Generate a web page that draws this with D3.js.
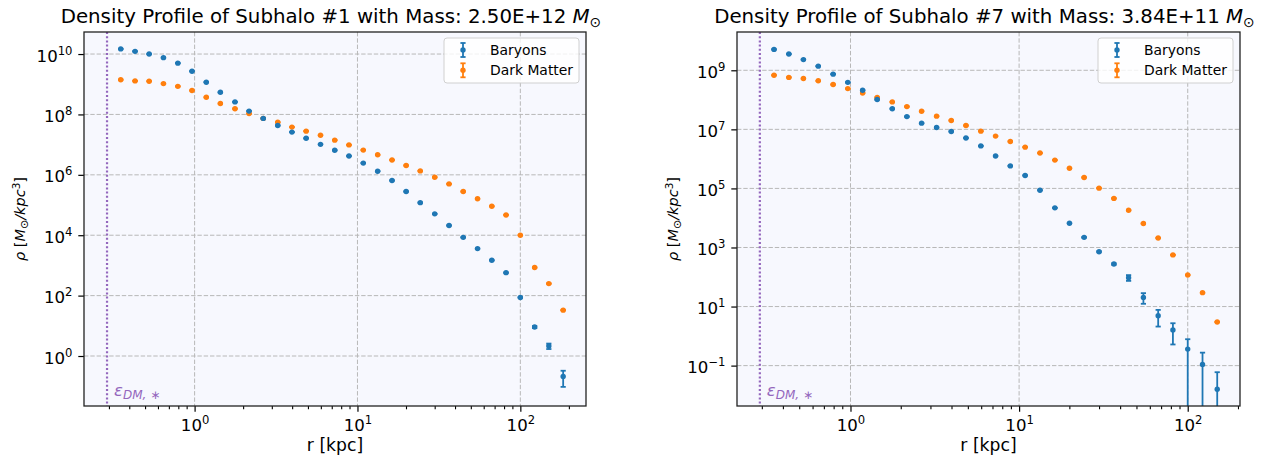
<!DOCTYPE html>
<html>
<head>
<meta charset="utf-8">
<script src="https://cdn.jsdelivr.net/npm/d3@7/dist/d3.min.js"></script>
<style>
body { margin: 0; background: #fff; }
text { font-family: 'DejaVu Sans', sans-serif; fill: #000; }
</style>
</head>
<body>
<svg id="chart" width="1271" height="465"></svg>
<script>
// radial bin centres [kpc]
const radii = [0.352, 0.431, 0.526, 0.644, 0.789, 0.964, 1.18, 1.44, 1.77, 2.16, 2.64, 3.24, 3.96, 4.84, 5.93, 7.25,
  8.87, 10.86, 13.3, 16.3, 19.9, 24.3, 29.8, 36.5, 44.6, 54.6, 66.8, 81.7, 100, 122.4, 149.6, 183.2]

// subhalo #1
const baryons1 = [1.48e10, 1.23e10, 1.0e10, 7.6e9, 5.0e9, 2.7e9, 1.17e9, 5.4e8, 2.6e8, 1.29e8, 7.4e7, 4.3e7, 2.6e7,
  1.62e7, 1.02e7, 6.5e6, 4.2e6, 2.45e6, 1.32e6, 6.5e5, 2.8e5, 1.2e5, 5.1e4, 2.1e4, 8.5e3, 3.6e3, 1.48e3, 575, 87,
  9.1, 2.14, 0.21]
const baryonsErr1 = [0, 0, 0, 0, 0, 0, 0, 0, 0, 0, 0, 0, 0, 0, 0, 0, 0, 0, 0, 0, 0, 0, 0, 0, 0, 0, 0, 5, 2, 0.7, 0.44, 0.115]
const dm1 = [1.41e9, 1.29e9, 1.26e9, 1.05e9, 8.5e8, 6.2e8, 3.7e8, 2.3e8, 1.55e8, 1.07e8, 7.4e7, 5.5e7, 3.8e7, 2.8e7,
  2.04e7, 1.41e7, 9.8e6, 6.6e6, 4.6e6, 3.1e6, 2.04e6, 1.35e6, 8.3e5, 5.0e5, 2.8e5, 1.62e5, 9.1e4, 4.7e4, 1.0e4,
  850, 250, 33]

// subhalo #7
const baryons7 = [5.1e9, 3.55e9, 2.3e9, 1.38e9, 7.4e8, 3.9e8, 2.1e8, 1.02e8, 5.0e7, 2.7e7, 1.62e7, 1.15e7, 8.5e6,
  5.1e6, 2.75e6, 1.26e6, 5.8e5, 2.75e5, 8.7e4, 2.2e4, 6.6e3, 2.2e3, 720, 275, 95, 20.4, 4.9, 1.62, 0.363, 0.11, 0.0158]
const baryonsErr7 = [0, 0, 0, 0, 0, 0, 0, 0, 0, 0, 0, 0, 0, 0, 0, 0, 0, 0, 0, 0, 0, 60, 30, 15, 21, 8, 2.8, 1.1, 0.42,
  0.165, 0.044]
const dm7 = [6.8e8, 5.75e8, 5.25e8, 4.4e8, 3.3e8, 2.4e8, 1.7e8, 1.2e8, 8.5e7, 5.9e7, 4.1e7, 2.8e7, 2.0e7, 1.35e7,
  8.7e6, 5.9e6, 3.9e6, 2.5e6, 1.58e6, 9.1e5, 4.8e5, 2.35e5, 1.02e5, 4.6e4, 1.82e4, 6.5e3, 2.1e3, 560, 117, 29.5, 3.0]

const softening = 0.29
const xTicks = [1, 10, 100]
const yTicks1 = [0, 2, 4, 6, 8, 10]
const yTicks7 = [-1, 1, 3, 5, 7, 9]
const seriesNames = ['Baryons', 'Dark Matter']
const colors = ['#1f77b4', '#ff7f0e']

const svg = d3.select('#chart')

function drawPanel(p) {
  const x = d3.scaleLog().domain(p.xDomain).range([p.left, p.right])
  const y = d3.scaleLog().domain(p.yDomain).range([p.bottom, p.top])
  const g = svg.append('g')

  g.append('clipPath').attr('id', 'clip' + p.id)
    .append('rect')
    .attr('x', p.left).attr('y', p.top)
    .attr('width', p.right - p.left).attr('height', p.bottom - p.top)

  g.append('rect')
    .attr('x', p.left).attr('y', p.top)
    .attr('width', p.right - p.left).attr('height', p.bottom - p.top)
    .attr('fill', '#f7f8fe')

  // grid
  const grid = g.append('g').attr('stroke', '#b8b8b8').attr('stroke-width', 1).attr('stroke-dasharray', '4.4,1.9')
  grid.selectAll('.gx').data(xTicks).enter().append('line')
    .attr('x1', d => x(d)).attr('x2', d => x(d))
    .attr('y1', p.top).attr('y2', p.bottom)
  grid.selectAll('.gy').data(p.yTicks).enter().append('line')
    .attr('x1', p.left).attr('x2', p.right)
    .attr('y1', d => y(Math.pow(10, d))).attr('y2', d => y(Math.pow(10, d)))

  // softening length
  g.append('line')
    .attr('x1', x(softening)).attr('x2', x(softening))
    .attr('y1', p.top).attr('y2', p.bottom)
    .attr('stroke', '#9467bd').attr('stroke-width', 2.2).attr('stroke-dasharray', '2,2.2')
  const eps = g.append('text')
    .attr('x', x(softening) + 7).attr('y', p.bottom - 10)
    .attr('fill', '#9467bd').style('fill', '#9467bd')
    .attr('font-size', 16.5).attr('font-style', 'italic')
  eps.append('tspan').text('ε')
  eps.append('tspan').attr('dy', 3).attr('font-size', 12).text('DM, ∗')

  // data
  const plot = g.append('g').attr('clip-path', 'url(#clip' + p.id + ')')
  const sets = [
    { values: p.baryons, err: p.baryonsErr, color: colors[0] },
    { values: p.dm, err: null, color: colors[1] }
  ]
  sets.slice().reverse().forEach(s => {
    const pts = s.values.map((v, i) => ({ r: radii[i], v: v, e: s.err ? s.err[i] : 0 }))
    const eb = plot.append('g').attr('stroke', s.color).attr('stroke-width', 1.8)
    eb.selectAll('line.bar').data(pts.filter(d => d.e > 0)).enter().append('line')
      .attr('x1', d => x(d.r)).attr('x2', d => x(d.r))
      .attr('y1', d => y(d.v + d.e))
      .attr('y2', d => d.v - d.e > 0 ? y(d.v - d.e) : p.bottom + 5)
    eb.selectAll('line.capt').data(pts).enter().append('line')
      .attr('x1', d => x(d.r) - 2.6).attr('x2', d => x(d.r) + 2.6)
      .attr('y1', d => y(d.v + d.e)).attr('y2', d => y(d.v + d.e))
    eb.selectAll('line.capb').data(pts.filter(d => d.v - d.e > 0)).enter().append('line')
      .attr('x1', d => x(d.r) - 2.6).attr('x2', d => x(d.r) + 2.6)
      .attr('y1', d => y(d.v - d.e)).attr('y2', d => y(d.v - d.e))
    plot.append('g').selectAll('circle').data(pts).enter().append('circle')
      .attr('cx', d => x(d.r)).attr('cy', d => y(d.v))
      .attr('r', 2.7).attr('fill', s.color)
  })

  // axes
  const xAxis = g.append('g')
    .attr('transform', 'translate(0,' + p.bottom + ')')
    .call(d3.axisBottom(x).tickValues(xTicks).tickFormat('').tickSize(5.7).tickSizeOuter(0))
  const minor = []
  ;[0.1, 1, 10, 100].forEach(dec => {
    for (let k = 2; k < 10; k++) {
      const v = dec * k
      if (v > p.xDomain[0] && v < p.xDomain[1]) minor.push(v)
    }
  })
  xAxis.selectAll('.minor').data(minor).enter().append('line')
    .attr('x1', d => x(d)).attr('x2', d => x(d))
    .attr('y1', 0).attr('y2', 3.3)
    .attr('stroke', '#000').attr('stroke-width', 1.1)
  xAxis.selectAll('.tick').each(function(d) {
    const t = d3.select(this).append('text')
      .attr('y', 25).attr('text-anchor', 'middle').attr('font-size', 16.6)
    t.append('tspan').text('10')
    t.append('tspan').attr('dy', -7).attr('font-size', 11.6).text(Math.round(Math.log10(d)))
  })

  const yAxis = g.append('g')
    .attr('transform', 'translate(' + p.left + ',0)')
    .call(d3.axisLeft(y).tickValues(p.yTicks.map(d => Math.pow(10, d))).tickFormat('').tickSize(5.7).tickSizeOuter(0))
  yAxis.selectAll('.tick').each(function(d) {
    const e = Math.round(Math.log10(d))
    const t = d3.select(this).append('text')
      .attr('x', -11.5).attr('y', 7).attr('text-anchor', 'end').attr('font-size', 16.6)
    t.append('tspan').text('10')
    t.append('tspan').attr('dy', -7).attr('font-size', 11.6).text(e < 0 ? '−' + (-e) : e)
  })
  g.selectAll('.tick line').attr('stroke-width', 1.2)
  g.selectAll('.domain').remove()

  // frame
  g.append('rect')
    .attr('x', p.left).attr('y', p.top)
    .attr('width', p.right - p.left).attr('height', p.bottom - p.top)
    .attr('fill', 'none').attr('stroke', '#222').attr('stroke-width', 1.3)

  // title
  const title = g.append('text')
    .attr('x', (p.left + p.right) / 2 - 4).attr('y', 23)
    .attr('text-anchor', 'middle').attr('font-size', 19.8)
  title.append('tspan').text('Density Profile of Subhalo ' + p.name + ' with Mass: ' + p.mass + ' ')
  title.append('tspan').attr('font-style', 'italic').text('M')
  title.append('tspan').attr('dy', 4).attr('font-size', 14).text('⊙')

  // axis labels
  g.append('text')
    .attr('x', (p.left + p.right) / 2).attr('y', 451)
    .attr('text-anchor', 'middle').attr('font-size', 17.2)
    .text('r [kpc]')
  const yl = g.append('text')
    .attr('transform', 'translate(' + (p.left - 59) + ',' + ((p.top + p.bottom) / 2) + ') rotate(-90)')
    .attr('text-anchor', 'middle').attr('font-size', 14.5)
  yl.append('tspan').attr('font-style', 'italic').text('ρ')
  yl.append('tspan').text(' [')
  yl.append('tspan').attr('font-style', 'italic').text('M')
  yl.append('tspan').attr('dy', 3).attr('font-size', 11).text('⊙')
  yl.append('tspan').attr('dy', -3).attr('font-style', 'italic').text('/kpc')
  yl.append('tspan').attr('dy', -5).attr('font-size', 10.5).text('3')
  yl.append('tspan').attr('dy', 5).text(']')

  // legend
  const lg = g.append('g').attr('transform', 'translate(' + (p.right - 142) + ',' + (p.top + 6) + ')')
  lg.append('rect')
    .attr('width', 135).attr('height', 45).attr('rx', 3)
    .attr('fill', '#ffffff').attr('fill-opacity', 0.8)
    .attr('stroke', '#d0d0d0').attr('stroke-width', 1)
  seriesNames.forEach((name, i) => {
    const cy = 12 + i * 20.3
    const item = lg.append('g').attr('stroke', colors[i]).attr('stroke-width', 1.8)
    item.append('line').attr('x1', 19).attr('x2', 19).attr('y1', cy - 7).attr('y2', cy + 7)
    item.append('line').attr('x1', 16.4).attr('x2', 21.6).attr('y1', cy - 7).attr('y2', cy - 7)
    item.append('line').attr('x1', 16.4).attr('x2', 21.6).attr('y1', cy + 7).attr('y2', cy + 7)
    lg.append('circle').attr('cx', 19).attr('cy', cy).attr('r', 2.7).attr('fill', colors[i])
    lg.append('text').attr('x', 46).attr('y', cy + 5).attr('font-size', 13.9).text(name)
  })
}

drawPanel({
  id: 1, name: '#1', mass: '2.50E+12',
  left: 84, right: 586, top: 32, bottom: 406,
  xDomain: [0.2094, 253], yDomain: [0.0221, 5.37e10], yTicks: yTicks1,
  baryons: baryons1, baryonsErr: baryonsErr1, dm: dm1
})
drawPanel({
  id: 7, name: '#7', mass: '3.84E+11',
  left: 737, right: 1240, top: 32, bottom: 406,
  xDomain: [0.2123, 204.2], yDomain: [0.00429, 1.98e10], yTicks: yTicks7,
  baryons: baryons7, baryonsErr: baryonsErr7, dm: dm7
})
</script>
</body>
</html>
